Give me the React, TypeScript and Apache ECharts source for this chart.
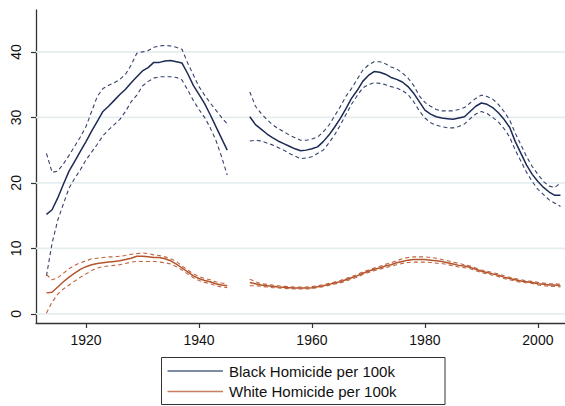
import React, { useEffect, useRef } from "react";
import * as echarts from "echarts";

// Homicide rates per 100k, smoothed, with 95% confidence bands.
// Two observation windows: 1913–1945 and 1949–2004.
const earlyStart = 1913;
const lateStart = 1949;

const blackEarly = [15.2, 15.9, 17.7, 19.8, 21.8, 23.3, 24.8, 26.3, 27.9, 29.4, 30.9, 31.7, 32.6, 33.5, 34.3, 35.3, 36.2, 37.1, 37.6, 38.4, 38.4, 38.6, 38.7, 38.5, 38.3, 36.7, 34.9, 33.5, 32.1, 30.4, 28.6, 26.8, 25.0];
const blackEarlyHi = [24.5, 21.6, 21.8, 22.9, 24.2, 25.6, 27.0, 28.6, 30.9, 33.2, 34.4, 34.9, 35.3, 35.8, 36.6, 38.0, 39.8, 40.0, 40.2, 40.7, 40.9, 41.0, 40.9, 40.7, 40.4, 38.3, 36.5, 34.7, 33.4, 32.2, 31.1, 30.0, 29.0];
const blackEarlyLo = [5.8, 10.8, 14.3, 16.8, 19.2, 20.7, 22.0, 23.5, 24.7, 25.9, 27.2, 28.1, 28.9, 29.7, 30.9, 32.4, 33.4, 34.8, 35.5, 36.0, 36.2, 36.2, 36.2, 36.1, 35.7, 34.2, 32.6, 31.2, 30.0, 28.4, 26.5, 24.0, 21.2];

const blackLate = [30.1, 28.9, 28.2, 27.5, 26.9, 26.4, 26.0, 25.6, 25.2, 24.9, 25.0, 25.2, 25.5, 26.3, 27.3, 28.5, 29.8, 31.3, 32.9, 34.1, 35.5, 36.4, 37.0, 36.9, 36.6, 36.1, 35.8, 35.4, 34.7, 33.7, 32.4, 31.1, 30.5, 30.1, 29.9, 29.8, 29.7, 29.9, 30.1, 30.9, 31.7, 32.2, 32.0, 31.5, 30.7, 29.7, 28.5, 26.3, 24.5, 22.7, 21.3, 20.2, 19.3, 18.6, 18.1, 18.1];
const blackLateHi = [33.9, 31.7, 30.6, 29.7, 28.9, 28.3, 27.8, 27.3, 26.9, 26.5, 26.5, 26.7, 27.0, 27.8, 28.8, 30.2, 31.6, 33.2, 34.4, 35.8, 37.2, 38.0, 38.5, 38.5, 38.2, 37.7, 37.4, 36.8, 36.0, 34.9, 33.3, 32.3, 31.7, 31.2, 31.0, 31.0, 31.0, 31.2, 31.5, 32.2, 32.9, 33.4, 33.2, 32.8, 32.0, 30.9, 29.6, 27.6, 25.8, 24.0, 22.5, 21.3, 20.2, 19.5, 19.3, 20.0];
const blackLateLo = [26.4, 26.5, 26.4, 26.1, 25.8, 25.4, 25.0, 24.5, 24.1, 23.7, 23.8, 24.0, 24.5, 25.0, 26.1, 27.3, 28.8, 30.4, 32.0, 33.3, 34.5, 35.0, 35.3, 35.2, 35.0, 34.7, 34.5, 34.1, 33.5, 32.4, 31.0, 29.9, 29.2, 28.8, 28.6, 28.4, 28.4, 28.6, 29.0, 29.8, 30.5, 30.9, 30.6, 30.0, 29.3, 28.3, 27.0, 25.0, 23.3, 21.6, 20.2, 19.0, 18.2, 17.4, 16.9, 16.4];

const whiteEarly = [3.2, 3.3, 4.1, 4.9, 5.6, 6.2, 6.8, 7.2, 7.5, 7.7, 7.8, 7.9, 8.0, 8.1, 8.3, 8.5, 8.8, 8.8, 8.7, 8.6, 8.6, 8.4, 8.1, 7.6, 7.0, 6.4, 5.8, 5.4, 5.1, 4.9, 4.6, 4.4, 4.3];
const whiteEarlyHi = [6.0, 5.2, 5.5, 6.2, 6.9, 7.4, 7.8, 8.1, 8.4, 8.5, 8.6, 8.7, 8.7, 8.8, 8.9, 9.1, 9.2, 9.3, 9.2, 9.0, 8.9, 8.7, 8.4, 8.0, 7.3, 6.7, 6.1, 5.7, 5.4, 5.2, 4.9, 4.7, 4.6];
const whiteEarlyLo = [0.1, 1.8, 3.0, 3.8, 4.4, 5.0, 5.6, 6.1, 6.6, 7.0, 7.2, 7.3, 7.4, 7.5, 7.7, 7.9, 8.0, 8.0, 8.0, 8.0, 7.9, 7.8, 7.6, 7.2, 6.7, 6.1, 5.5, 5.1, 4.8, 4.6, 4.3, 4.1, 4.0];

const whiteLate = [4.8, 4.6, 4.4, 4.3, 4.2, 4.1, 4.05, 4.0, 3.95, 3.95, 3.95, 4.0, 4.15, 4.3, 4.5, 4.7, 4.9, 5.2, 5.5, 5.8, 6.2, 6.5, 6.8, 7.0, 7.3, 7.5, 7.8, 8.0, 8.2, 8.3, 8.3, 8.3, 8.2, 8.1, 8.0, 7.8, 7.6, 7.4, 7.3, 7.1, 6.8, 6.5, 6.3, 6.1, 5.9, 5.6, 5.4, 5.2, 5.0, 4.9, 4.8, 4.6, 4.5, 4.4, 4.4, 4.3];
const whiteLateHi = [5.3, 4.9, 4.6, 4.5, 4.4, 4.3, 4.2, 4.15, 4.1, 4.1, 4.1, 4.15, 4.3, 4.45, 4.65, 4.85, 5.1, 5.4, 5.7, 6.0, 6.4, 6.7, 7.0, 7.25, 7.55, 7.8, 8.1, 8.4, 8.6, 8.7, 8.7, 8.7, 8.6, 8.5, 8.3, 8.1, 7.9, 7.7, 7.5, 7.3, 7.0, 6.7, 6.5, 6.3, 6.1, 5.8, 5.6, 5.4, 5.2, 5.05, 4.95, 4.8, 4.7, 4.6, 4.6, 4.5];
const whiteLateLo = [4.3, 4.3, 4.2, 4.1, 4.0, 3.95, 3.9, 3.85, 3.8, 3.8, 3.8, 3.85, 4.0, 4.15, 4.35, 4.55, 4.7, 5.0, 5.3, 5.6, 6.0, 6.3, 6.6, 6.8, 7.05, 7.25, 7.5, 7.7, 7.85, 7.9, 7.9, 7.9, 7.85, 7.75, 7.7, 7.5, 7.35, 7.15, 7.05, 6.9, 6.6, 6.3, 6.1, 5.9, 5.7, 5.4, 5.2, 5.0, 4.8, 4.75, 4.65, 4.4, 4.3, 4.2, 4.2, 4.1];

const xTicks = [1920, 1940, 1960, 1980, 2000];
const yTicks = [0, 10, 20, 30, 40];
const seriesNames = ["Black Homicide per 100k", "White Homicide per 100k"];

const X_MIN = 1911.15;
const X_MAX = 2004.8;

const NAVY = "#1c2a55";
const SIENNA = "#b4552c";
const NAVY_CI = "#34416b";
const SIENNA_CI = "#bf6440";
const FONT = '"Liberation Sans", Arial, Helvetica, sans-serif';

// Join the two windows into one [year, value] list with a break between them.
function joinWindows(early: number[], late: number[]) {
  const pts: (number | string)[][] = early.map((v, i) => [earlyStart + i, v]);
  pts.push([earlyStart + early.length + 1, "-"]);
  late.forEach((v, i) => pts.push([lateStart + i, v]));
  return pts;
}

function lineSeries(name: string, data: (number | string)[][], color: string, dashed: boolean, width: number) {
  return {
    name,
    type: "line",
    data,
    showSymbol: false,
    symbol: "none",
    connectNulls: false,
    silent: true,
    z: dashed ? 2 : 3,
    lineStyle: { color, width, type: dashed ? [4, 3] : "solid" },
    itemStyle: { color },
  };
}

// Horizontal gridline at each major y tick, spanning the plot
function gridSeries(v: number) {
  return {
    name: "grid " + v,
    type: "line",
    data: [
      [X_MIN, v],
      [X_MAX, v],
    ],
    showSymbol: false,
    symbol: "none",
    silent: true,
    z: 1,
    lineStyle: { color: "#e5eeef", width: 1.6 },
  };
}

// Boxed legend in the bottom margin
const legendBox = { left: 161.5, top: 357.5, width: 283.5, height: 47 };
const legendRows = [
  { y: 371, color: "#56648a", label: seriesNames[0] },
  { y: 391.5, color: "#c8805f", label: seriesNames[1] },
];

export default function App() {
  const ref = useRef<HTMLDivElement>(null);

  useEffect(() => {
    if (!ref.current) return;
    const chart = echarts.init(ref.current, null, { renderer: "svg" });

    const legendGraphics: any[] = [
      {
        type: "rect",
        shape: { x: legendBox.left, y: legendBox.top, width: legendBox.width, height: legendBox.height },
        style: { fill: "#ffffff", stroke: "#333333", lineWidth: 1 },
      },
    ];
    legendRows.forEach((row) => {
      legendGraphics.push({
        type: "line",
        shape: { x1: 167.5, y1: row.y, x2: 223, y2: row.y },
        style: { stroke: row.color, lineWidth: 1.4 },
      });
      legendGraphics.push({
        type: "text",
        x: 229,
        y: row.y,
        style: { text: row.label, fontSize: 15, fontFamily: FONT, fill: "#111111", verticalAlign: "middle", align: "left" },
      });
    });

    chart.setOption({
      animation: false,
      backgroundColor: "#ffffff",
      textStyle: { fontFamily: FONT },
      grid: { left: 36, right: 0, top: 10, bottom: 83, containLabel: false },
      xAxis: {
        type: "value",
        min: X_MIN,
        max: X_MAX,
        axisLine: { show: true, onZero: false, lineStyle: { color: "#333333", width: 1.3 } },
        axisTick: { show: true, length: 5, customValues: xTicks, lineStyle: { color: "#333333", width: 1.2 } },
        axisLabel: {
          customValues: xTicks,
          margin: 10,
          fontSize: 14,
          color: "#111111",
          fontFamily: FONT,
          formatter: (v: number) => String(v),
        },
        splitLine: { show: false },
      },
      yAxis: {
        type: "value",
        min: -1.4,
        max: 46.4,
        axisLine: { show: true, onZero: false, lineStyle: { color: "#333333", width: 1.3 } },
        axisTick: { show: true, length: 5, customValues: yTicks, lineStyle: { color: "#333333", width: 1.2 } },
        axisLabel: { customValues: yTicks, rotate: 90, margin: 13, fontSize: 14, color: "#111111", fontFamily: FONT },
        splitLine: { show: false },
      },
      graphic: legendGraphics,
      series: [
        ...yTicks.map(gridSeries),
        lineSeries("Black upper CI", joinWindows(blackEarlyHi, blackLateHi), NAVY_CI, true, 1.1),
        lineSeries("Black lower CI", joinWindows(blackEarlyLo, blackLateLo), NAVY_CI, true, 1.1),
        lineSeries("White upper CI", joinWindows(whiteEarlyHi, whiteLateHi), SIENNA_CI, true, 1.1),
        lineSeries("White lower CI", joinWindows(whiteEarlyLo, whiteLateLo), SIENNA_CI, true, 1.1),
        lineSeries(seriesNames[0], joinWindows(blackEarly, blackLate), NAVY, false, 1.5),
        lineSeries(seriesNames[1], joinWindows(whiteEarly, whiteLate), SIENNA, false, 1.5),
      ],
    });

    return () => chart.dispose();
  }, []);

  return <div ref={ref} style={{ position: "fixed", left: 0, top: 0, width: 565, height: 406 }} />;
}
